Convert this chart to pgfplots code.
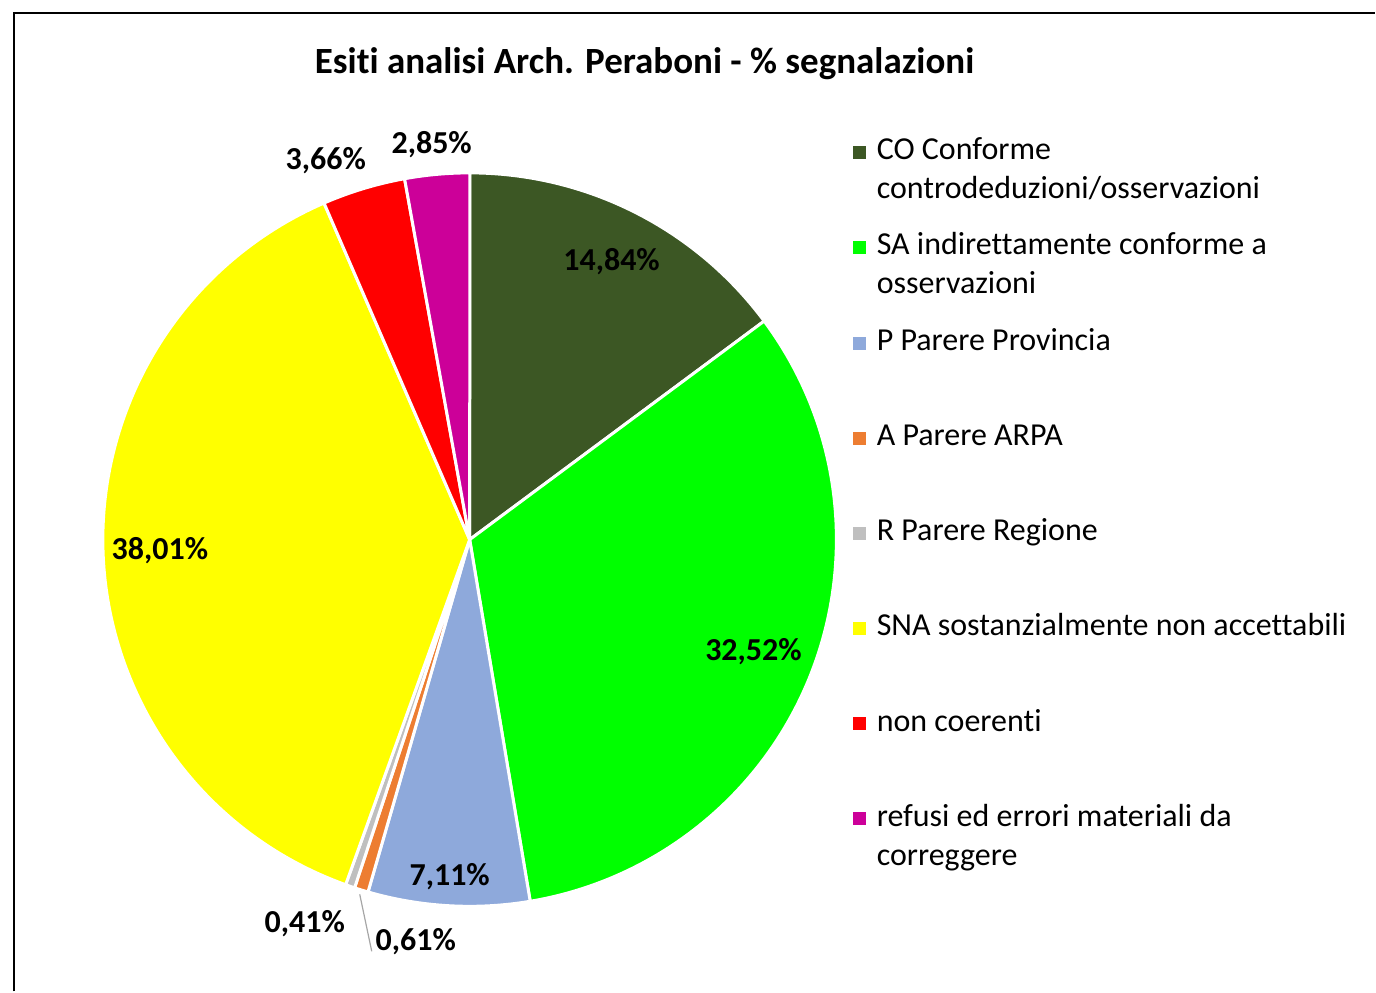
\documentclass[border=0pt]{standalone}
\usepackage{pgfplots}
\pgfplotsset{compat=1.18}
\usepackage{fontspec}
\setmainfont{Carlito}[Ligatures=NoCommon]
\definecolor{cCO}{RGB}{60,87,36}
\definecolor{cSA}{RGB}{0,255,0}
\definecolor{cP}{RGB}{142,169,219}
\definecolor{cA}{RGB}{237,125,49}
\definecolor{cR}{RGB}{191,191,191}
\definecolor{cSNA}{RGB}{255,255,0}
\definecolor{cNC}{RGB}{255,0,0}
\definecolor{cRE}{RGB}{204,0,153}
% pie: centre (470,452) in picture pixels, radius 367
\newcommand\startang{90}
\newcommand\slice[2]{%
  \pgfmathsetmacro\endang{\startang-#1*3.6}%
  \pgfmathsetmacro\sx{470+367*cos(\startang)}%
  \pgfmathsetmacro\sy{452+367*sin(\startang)}%
  \edef\doit{\noexpand\filldraw[fill=#2,draw=white,line width=1.5pt,line join=round]
    (axis cs:470,452) -- (axis cs:\sx,\sy) arc[start angle=\startang,end angle=\endang,radius=367] -- cycle;}%
  \doit
  \global\let\startang\endang}
\newcommand\legitem[4]{% baseline y (pixels from top), colour, line 1, line 2
  \edef\doit{\noexpand\fill[#2] (axis cs:854,{992-#1+1}) rectangle (axis cs:867,{992-#1+14});}\doit
  \node[anchor=base west,inner sep=0pt,font=\fontsize{16}{19.5}\selectfont] at (axis cs:877,{992-#1}) {#3};
  \node[anchor=base west,inner sep=0pt,font=\fontsize{16}{19.5}\selectfont] at (axis cs:877,{992-#1-39}) {#4};}
\begin{document}
\begin{tikzpicture}
\begin{axis}[
  width=688pt, height=496pt, scale only axis,
  xmin=0, xmax=1376, ymin=0, ymax=992,
  hide axis, clip=false,
]
\path (axis cs:0,0) rectangle (axis cs:1376,992);
% frame
\draw[black,line width=1pt] (axis cs:14,0) -- (axis cs:14,979) -- (axis cs:1376,979);
% slices (values in %)
\slice{14.84}{cCO}
\slice{32.52}{cSA}
\slice{7.11}{cP}
\slice{0.61}{cA}
\slice{0.41}{cR}
\slice{38.01}{cSNA}
\slice{3.66}{cNC}
\slice{2.85}{cRE}
% leader line
\draw[gray!70,line width=0.6pt] (axis cs:360,97) -- (axis cs:372,40);
% title
\node[font=\fontsize{18.5}{22}\selectfont\bfseries] at (axis cs:645,928) {Esiti analisi Arch. Peraboni - \% segnalazioni};
% data labels
\begin{scope}[every node/.style={font=\fontsize{16}{19}\selectfont\bfseries,inner sep=0pt}]
\node at (axis cs:612,730) {14,84\%};
\node at (axis cs:754,340) {32,52\%};
\node at (axis cs:450,115) {7,11\%};
\node at (axis cs:416,50) {0,61\%};
\node at (axis cs:305,68) {0,41\%};
\node at (axis cs:160,441) {38,01\%};
\node at (axis cs:326,831) {3,66\%};
\node at (axis cs:432,847) {2,85\%};
\end{scope}
% legend
\legitem{160}{cCO}{CO Conforme}{controdeduzioni/osservazioni}
\legitem{255}{cSA}{SA indirettamente conforme a}{osservazioni}
\legitem{351}{cP}{P Parere Provincia}{}
\legitem{446}{cA}{A Parere ARPA}{}
\legitem{541}{cR}{R Parere Regione}{}
\legitem{636}{cSNA}{SNA sostanzialmente non accettabili}{}
\legitem{732}{cNC}{non coerenti}{}
\legitem{827}{cRE}{refusi ed errori materiali da}{correggere}
\end{axis}
\end{tikzpicture}
\end{document}
